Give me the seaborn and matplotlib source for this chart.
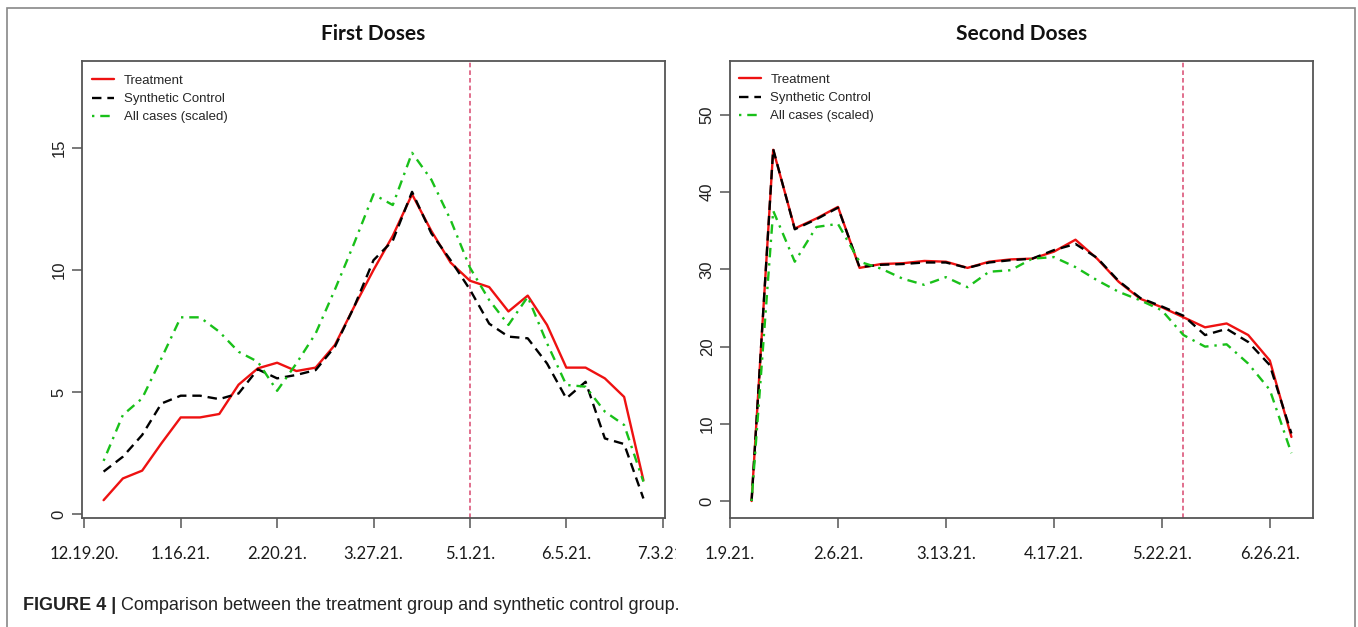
import numpy as np
import pandas as pd
import matplotlib
matplotlib.use('Agg')
import matplotlib.pyplot as plt
import matplotlib.font_manager as fm
from matplotlib.patches import Rectangle
from matplotlib.transforms import Bbox, TransformedBbox
import seaborn as sns

# values, one point per week
first_treatment = [0.57, 1.46, 1.78, 2.9, 3.96, 3.96, 4.1, 5.3, 5.97, 6.2, 5.86, 6.0, 6.93, 8.5, 10.0,
                   11.4, 13.1, 11.6, 10.3, 9.56, 9.3, 8.3, 8.95, 7.75, 6.0, 6.0, 5.56, 4.8, 1.39]
first_synthetic = [1.74, 2.35, 3.24, 4.53, 4.85, 4.85, 4.71, 4.94, 5.93, 5.56, 5.7, 5.9, 6.86, 8.5, 10.4,
                   11.2, 13.2, 11.5, 10.4, 9.2, 7.8, 7.27, 7.2, 6.17, 4.74, 5.42, 3.1, 2.87, 0.64]
first_allcases = [2.18, 4.06, 4.74, 6.38, 8.06, 8.06, 7.47, 6.65, 6.24, 5.05, 6.17, 7.4, 9.2, 11.1, 13.1,
                  12.66, 14.8, 13.7, 12.05, 10.1, 8.77, 7.75, 8.9, 7.0, 5.29, 5.22, 4.2, 3.65, 1.33]
first_ticklabels = ['12.19.20.', '1.16.21.', '2.20.21.', '3.27.21.', '5.1.21.', '6.5.21.', '7.3.21.']
first_intervention = 20

second_treatment = [0, 45.5, 35.3, 36.6, 38.1, 30.2, 30.7, 30.8, 31.1, 31.0, 30.2, 31.0, 31.3, 31.4,
                    32.3, 33.85, 31.4, 28.4, 26.2, 25.1, 23.8, 22.5, 23.0, 21.5, 18.2, 8.3]
second_synthetic = [0, 45.6, 35.2, 36.5, 38.0, 30.3, 30.6, 30.7, 30.9, 30.9, 30.2, 30.9, 31.2, 31.4,
                    32.5, 33.3, 31.5, 28.5, 26.3, 25.2, 24.0, 21.5, 22.3, 20.6, 17.6, 8.75]
second_allcases = [0, 37.6, 31.0, 35.5, 35.9, 31.0, 30.1, 28.8, 28.0, 29.0, 27.7, 29.7, 29.9, 31.4,
                   31.6, 30.3, 28.6, 27.1, 26.0, 24.7, 21.5, 20.0, 20.3, 17.8, 14.4, 6.2]
second_ticklabels = ['1.9.21.', '2.6.21.', '3.13.21.', '4.17.21.', '5.22.21.', '6.26.21.']
second_intervention = 21

series_names = ['Treatment', 'Synthetic Control', 'All cases (scaled)']
palette = {'Treatment': '#ee1111', 'Synthetic Control': '#000000', 'All cases (scaled)': '#19c019'}
dash_map = {'Treatment': '', 'Synthetic Control': (4, 2.5), 'All cases (scaled)': (1, 2.5, 4, 2.5)}

sns.set_style('white')
names = {f.name for f in fm.fontManager.ttflist}
legend_font = 'Liberation Sans Narrow' if 'Liberation Sans Narrow' in names else 'Liberation Sans'
tick_font = 'Lato' if 'Lato' in names else 'DejaVu Sans'
plt.rcParams['font.family'] = ['Liberation Sans', 'DejaVu Sans']

W, H = 1358, 627
fig = plt.figure(figsize=(W / 100, H / 100), dpi=100)


def make_df(treat, synth, allc):
    idx = np.arange(1, len(treat) + 1)
    parts = []
    for name, vals in zip(series_names, [treat, synth, allc]):
        parts.append(pd.DataFrame({'week': idx, 'value': vals, 'series': name}))
    return pd.concat(parts, ignore_index=True)


def panel(rect, df, title, ticklabels, yticks, ylim, intervention, legend_xy, clip_right):
    ax = fig.add_axes(rect)
    sns.lineplot(data=df, x='week', y='value', hue='series', style='series',
                 palette=palette, dashes=dash_map, linewidth=1.7, ax=ax)
    n = df['week'].max()
    pad = (n - 1) * 0.04
    ax.set_xlim(1 - pad, n + pad)
    ax.set_ylim(*ylim)
    ax.axvline(intervention, color='#d9486f', lw=1.1, ls=(0, (3, 2)), zorder=1)
    ax.set_xticks(np.arange(len(ticklabels)) * 5)
    ax.set_xticklabels(ticklabels, fontsize=12, family=tick_font, color='#1a1a1a')
    ax.set_yticks(yticks)
    ax.set_yticklabels([str(v) for v in yticks], fontsize=12, rotation=90,
                       va='center', color='#222222')
    ax.tick_params(axis='x', length=7, width=1.1, color='#555555', pad=13, direction='out')
    ax.tick_params(axis='y', length=7, width=1.1, color='#555555', pad=4, direction='out')
    ax.tick_params(bottom=True, left=True)
    ax.set_xlabel('')
    ax.set_ylabel('')
    for s in ax.spines.values():
        s.set_color('#555555')
        s.set_linewidth(1.3)
    # the left picture is cut at its right edge in the original figure
    clip = TransformedBbox(Bbox([[0, 0], [clip_right / W, 1]]), fig.transFigure)
    for lab in ax.get_xticklabels():
        lab.set_clip_box(clip)
        lab.set_clip_on(True)
    handles, labels = ax.get_legend_handles_labels()
    ax.legend(handles, labels, loc='upper left', bbox_to_anchor=legend_xy, frameon=False,
              borderaxespad=0, borderpad=0, handlelength=1.7, handletextpad=0.7,
              labelspacing=0.45, prop={'family': legend_font, 'size': 9.5})
    fig.text(rect[0] + rect[2] / 2, 1 - 34 / H, title, ha='center', va='center',
             fontsize=15, fontweight='bold', family=tick_font, color='#111111')
    return ax


bottom = 1 - 518 / H
height = 457 / H
panel([82 / W, bottom, 583 / W, height],
      make_df(first_treatment, first_synthetic, first_allcases),
      'First Doses', first_ticklabels, [0, 5, 10, 15], (-0.16, 18.56),
      first_intervention, (0.017, 0.97), 676)
panel([730 / W, bottom, 583 / W, height],
      make_df(second_treatment, second_synthetic, second_allcases),
      'Second Doses', second_ticklabels, [0, 10, 20, 30, 40, 50], (-2.2, 57.0),
      second_intervention, (0.015, 0.972), W)

# frame around the figure image
fig.add_artist(Rectangle((7 / W, -0.05), 1348 / W, 1.05 - 8 / H, transform=fig.transFigure,
                         fill=False, edgecolor='#888888', lw=1.2))

# caption
renderer = fig.canvas.get_renderer()
t1 = fig.text(23 / W, 1 - 606 / H, 'FIGURE 4 |', ha='left', va='center', fontsize=13,
              fontweight='bold', color='#222222')
bb = t1.get_window_extent(renderer=renderer)
fig.text(bb.x1 / W + 5 / W, 1 - 606 / H, 'Comparison between the treatment group and synthetic control group.',
         ha='left', va='center', fontsize=13, color='#222222')

fig.savefig('out.png', dpi=100)
